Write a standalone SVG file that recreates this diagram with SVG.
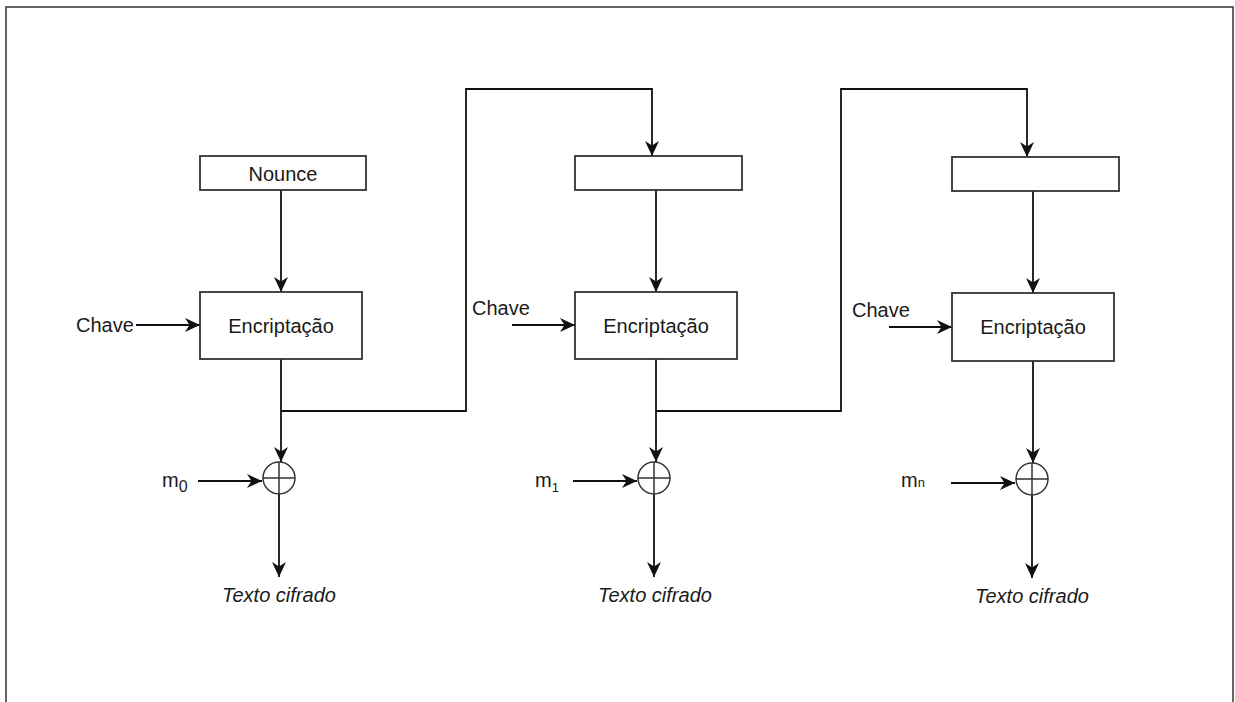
<svg xmlns="http://www.w3.org/2000/svg" width="1235" height="702" viewBox="0 0 1235 702">
  <style>
    .box { fill: #ffffff; stroke: #333333; stroke-width: 1.8; }
    .wire { fill: none; stroke: #111111; stroke-width: 1.8; }
    .arrow { fill: none; stroke: #111111; stroke-width: 1.8; marker-end: url(#head); }
    .xor { fill: #ffffff; stroke: #333333; stroke-width: 1.5; }
    .lbl { font-family: "Liberation Sans", Arial, sans-serif; font-size: 20px; fill: #1a1a1a; }
    .mid { text-anchor: middle; }
    .it { font-style: italic; }
  </style>
  <defs>
    <marker id="head" markerUnits="userSpaceOnUse" viewBox="0 0 15 14" markerWidth="15" markerHeight="14" refX="15" refY="7" orient="auto">
      <path d="M0,0 L15,7 L0,14 L4.5,7 z" fill="#111111"/>
    </marker>
  </defs>

  <rect width="1235" height="702" fill="#ffffff"/>
  <!-- outer frame, open at the bottom -->
  <path d="M6,703 V7 H1233 V703" fill="none" stroke="#333333" stroke-width="1.5"/>

  <!-- connectors -->
  <g id="connectors">
    <!-- stage 1 -->
    <line class="arrow" x1="281" y1="190" x2="281" y2="292"/>
    <line class="arrow" x1="136" y1="325" x2="200" y2="325"/>
    <line class="arrow" x1="281" y1="359" x2="281" y2="462"/>
    <path class="arrow" d="M281,411 H466 V89 H652 V156"/>
    <line class="arrow" x1="198" y1="481" x2="262" y2="481"/>
    <line class="arrow" x1="279" y1="494" x2="279" y2="577"/>
    <!-- stage 2 -->
    <line class="arrow" x1="656" y1="190" x2="656" y2="292"/>
    <line class="arrow" x1="512" y1="325" x2="575" y2="325"/>
    <line class="arrow" x1="656" y1="359" x2="656" y2="462"/>
    <path class="arrow" d="M656,411 H841 V89 H1027 V157"/>
    <line class="arrow" x1="573" y1="481" x2="637" y2="481"/>
    <line class="arrow" x1="654" y1="494" x2="654" y2="577"/>
    <!-- stage n -->
    <line class="arrow" x1="1033" y1="191" x2="1033" y2="293"/>
    <line class="arrow" x1="889" y1="327" x2="952" y2="327"/>
    <line class="arrow" x1="1033" y1="361" x2="1033" y2="463"/>
    <line class="arrow" x1="951" y1="483" x2="1015" y2="483"/>
    <line class="arrow" x1="1032" y1="495" x2="1032" y2="578"/>
  </g>

  <!-- stage 1 nodes -->
  <g id="nounce">
    <rect class="box" x="200" y="156" width="166" height="34"/>
    <text class="lbl mid" x="283" y="180.5">Nounce</text>
  </g>
  <g id="enc1">
    <rect class="box" x="200" y="292" width="162" height="67"/>
    <text class="lbl mid" x="281" y="332.5">Encriptação</text>
  </g>
  <g id="key1">
    <text class="lbl" x="76" y="332">Chave</text>
  </g>
  <g id="xor1">
    <circle class="xor" cx="279" cy="478" r="16"/>
    <path class="xor" d="M263,478 H295 M279,462 V494"/>
  </g>
  <g id="msg0">
    <text class="lbl" x="162" y="487">m<tspan font-size="16" dy="5">0</tspan></text>
  </g>
  <g id="out1">
    <text class="lbl mid it" x="279" y="602">Texto cifrado</text>
  </g>

  <!-- stage 2 nodes -->
  <g id="counter2">
    <rect class="box" x="575" y="156" width="167" height="34"/>
  </g>
  <g id="enc2">
    <rect class="box" x="575" y="292" width="162" height="67"/>
    <text class="lbl mid" x="656" y="332.5">Encriptação</text>
  </g>
  <g id="key2">
    <text class="lbl" x="472" y="315">Chave</text>
  </g>
  <g id="xor2">
    <circle class="xor" cx="654" cy="478" r="16"/>
    <path class="xor" d="M638,478 H670 M654,462 V494"/>
  </g>
  <g id="msg1">
    <text class="lbl" x="535" y="487">m<tspan font-size="13" dy="5">1</tspan></text>
  </g>
  <g id="out2">
    <text class="lbl mid it" x="655" y="602">Texto cifrado</text>
  </g>

  <!-- stage n nodes -->
  <g id="counter3">
    <rect class="box" x="952" y="157" width="167" height="34"/>
  </g>
  <g id="enc3">
    <rect class="box" x="952" y="293" width="162" height="68"/>
    <text class="lbl mid" x="1033" y="334">Encriptação</text>
  </g>
  <g id="key3">
    <text class="lbl" x="852" y="317">Chave</text>
  </g>
  <g id="xor3">
    <circle class="xor" cx="1032" cy="479" r="16"/>
    <path class="xor" d="M1016,479 H1048 M1032,463 V495"/>
  </g>
  <g id="msgn">
    <text class="lbl" x="901" y="487">m<tspan font-size="13">n</tspan></text>
  </g>
  <g id="out3">
    <text class="lbl mid it" x="1032" y="603">Texto cifrado</text>
  </g>
</svg>
